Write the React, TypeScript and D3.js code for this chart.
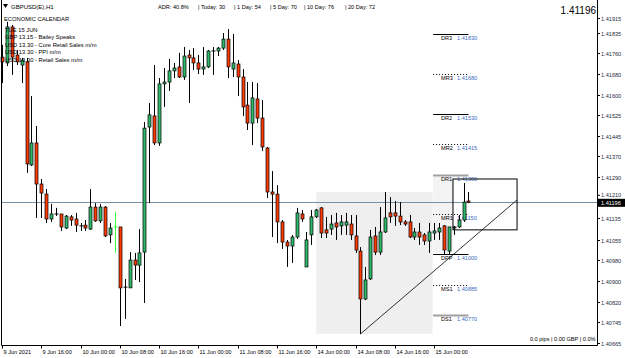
import React from 'react';
import * as d3 from 'd3';

// ---------- data ----------
const opens = [1.41744,1.41722,1.41858,1.41752,1.41714,1.41726,1.41337,1.41420,1.41265,1.41227,
1.41133,1.41152,1.41152,1.41099,1.41141,1.41133,1.41107,1.41110,1.41095,1.41178,
1.41126,1.41178,1.41073,1.41103,1.41103,1.40876,1.40873,1.40978,1.40959,1.41008,
1.41480,1.41522,1.41420,1.41643,1.41650,1.41692,1.41707,1.41669,1.41752,1.41741,
1.41722,1.41699,1.41707,1.41767,1.41767,1.41778,1.41812,1.41699,1.41718,1.41669,
1.41563,1.41495,1.41586,1.41514,1.41401,1.41235,1.41227,1.41122,1.41046,1.41031,
1.41065,1.41152,1.40952,1.41073,1.41141,1.41175,1.41092,1.41095,1.41118,1.41107,
1.41110,1.41114,1.41069,1.41012,1.40831,1.40907,1.41069,1.41008,1.41084,1.41156,
1.41156,1.41144,1.41122,1.41122,1.41065,1.41084,1.41073,1.41050,1.41080,1.41084,
1.41107,1.41012,1.41099,1.41103,1.41129,1.41201];
const highs = [1.41790,1.41877,1.41865,1.41771,1.41741,1.41741,1.41597,1.41484,1.41284,1.41246,
1.41190,1.41175,1.41152,1.41148,1.41148,1.41156,1.41118,1.41129,1.41246,1.41193,
1.41190,1.41182,1.41118,1.41159,1.41103,1.40907,1.41008,1.41005,1.41095,1.41499,
1.41571,1.41714,1.41665,1.41703,1.41737,1.41722,1.41760,1.41782,1.41771,1.41778,
1.41752,1.41782,1.41771,1.41782,1.41782,1.41835,1.41850,1.41831,1.41733,1.41699,
1.41650,1.41650,1.41646,1.41582,1.41405,1.41314,1.41261,1.41129,1.41054,1.41073,
1.41175,1.41167,1.41084,1.41167,1.41171,1.41178,1.41141,1.41148,1.41156,1.41148,
1.41156,1.41148,1.41148,1.41027,1.40952,1.41092,1.41103,1.41178,1.41235,1.41216,
1.41201,1.41197,1.41129,1.41148,1.41099,1.41118,1.41080,1.41118,1.41118,1.41118,
1.41110,1.41103,1.41107,1.41148,1.41269,1.41235];
const lows = [1.41646,1.41710,1.41677,1.41714,1.41646,1.41307,1.41333,1.41137,1.41137,1.41118,
1.41122,1.41144,1.41088,1.41095,1.41107,1.41084,1.41088,1.41088,1.41092,1.41122,
1.41118,1.41065,1.41042,1.41005,1.40729,1.40756,1.40873,1.40903,1.40895,1.40816,
1.41193,1.41412,1.41409,1.41556,1.41616,1.41665,1.41665,1.41658,1.41571,1.41695,
1.41680,1.41677,1.41703,1.41677,1.41748,1.41771,1.41665,1.41669,1.41597,1.41522,
1.41469,1.41412,1.41495,1.41390,1.41212,1.41065,1.41042,1.41020,1.40952,1.40967,
1.41058,1.41122,1.40952,1.41035,1.41137,1.41061,1.41061,1.41073,1.41054,1.41073,
1.41073,1.41054,1.41005,1.40699,1.40827,1.40903,1.40997,1.40997,1.41080,1.41118,
1.41107,1.41110,1.41107,1.41061,1.41054,1.41035,1.41035,1.41005,1.41054,1.41054,
1.41001,1.41001,1.41073,1.41099,1.41122,1.41193];
const closes = [1.41726,1.41858,1.41744,1.41726,1.41733,1.41341,1.41420,1.41265,1.41231,1.41133,
1.41152,1.41152,1.41103,1.41144,1.41129,1.41110,1.41107,1.41099,1.41178,1.41126,
1.41178,1.41069,1.41099,1.41103,1.40873,1.40876,1.40978,1.40959,1.41005,1.41476,
1.41526,1.41420,1.41643,1.41650,1.41692,1.41703,1.41669,1.41748,1.41741,1.41722,
1.41699,1.41707,1.41767,1.41767,1.41778,1.41812,1.41707,1.41722,1.41669,1.41556,
1.41495,1.41590,1.41514,1.41405,1.41235,1.41227,1.41122,1.41046,1.41031,1.41065,
1.41156,1.41133,1.41054,1.41141,1.41167,1.41080,1.41080,1.41114,1.41103,1.41122,
1.41122,1.41073,1.41016,1.40831,1.40903,1.41065,1.41008,1.41084,1.41137,1.41141,
1.41144,1.41122,1.41114,1.41065,1.41084,1.41065,1.41050,1.41084,1.41088,1.41099,
1.41016,1.41103,1.41103,1.41129,1.41197,1.41196];

const highlightBar = 23;
const currentPrice = 1.41196;

const priceTicks = [1.41915,1.41835,1.41760,1.41680,1.41600,1.41525,1.41445,1.41370,1.41290,1.41210,
1.41135,1.41055,1.40980,1.40900,1.40820,1.40745,1.40665];

const timeTickIdx = [0,8,16,24,32,40,48,56,64,72,80,88];
const timeTickLabels = ["9 Jun 2021","9 Jun 16:00","10 Jun 00:00","10 Jun 08:00","10 Jun 16:00",
"11 Jun 00:00","11 Jun 08:00","11 Jun 16:00","14 Jun 00:00","14 Jun 08:00","14 Jun 16:00","15 Jun 00:00"];

const pivotNames = ["DR3","MR3","DR2","MR2","DR1","MR1","DPP","MS1","DS1"];
const pivotValues = [1.41830,1.41680,1.41530,1.41415,1.41300,1.41150,1.41000,1.40885,1.40770];
const pivotStartIdx = 87.8;
const pivotEndIdx = 95;

const prevDayStart = 64;
const prevDayEnd = 87.7;
const sessionZoneIdx = [87.8, 91.9];
const sessionZonePrice = [1.41292, 1.41005];

const trendStartIdx = 73;
const trendEndIdx = 104.9;
const trendEndPrice = 1.41205;

const boxIdx = [91.85, 104.9];
const boxPrice = [1.41284, 1.41092];

const headerStats = ["ADR: 40.8%","| Today: 30","| 1 Day: 54","| 5 Day: 70","| 10 Day: 76","| 20 Day: 72"];
const headerStatX = [158,198,234,270,304,345];
const calendarLines = ["TUE 15 JUN","GBP 13.15 - Bailey Speaks","USD 13.30 - Core Retail Sales m/m",
"USD 13.30 - PPI m/m","USD 13.30 - Retail Sales m/m"];

// ---------- layout ----------
const W = 625, H = 358;
const plotRight = 597.5, plotBottom = 345.5, plotLeft = 1.5;
const FONT = "'Liberation Sans', Arial, sans-serif";

export default function App() {
  const x = d3.scaleLinear().domain([0, 95]).range([2, 2 + 95 * 4.91]);
  const y = d3.scaleLinear().domain([1.41835, 1.40665]).range([33, 343]);
  const bull = '#2fb86a';
  const bear = '#ff3a00';

  const prevHigh = d3.max(highs.slice(prevDayStart, Math.ceil(prevDayEnd))) as number;
  const prevLow = d3.min(lows.slice(prevDayStart, Math.ceil(prevDayEnd))) as number;

  const cy = y(currentPrice);

  return (
    <svg width={W} height={H} style={{ position: 'absolute', left: 0, top: 0, background: '#fff' }}
      fontFamily={FONT}>
      <rect x={0} y={0} width={W} height={H} fill="#fff" />
      {/* zones */}
      <rect x={x(prevDayStart)} y={y(prevHigh)} width={x(prevDayEnd) - x(prevDayStart)}
        height={y(prevLow) - y(prevHigh)} fill="#efefef" />
      <rect x={x(sessionZoneIdx[0])} y={y(sessionZonePrice[0])} width={x(sessionZoneIdx[1]) - x(sessionZoneIdx[0])}
        height={y(sessionZonePrice[1]) - y(sessionZonePrice[0])} fill="#f3f3f3" />

      {/* current price line */}
      <line x1={plotLeft} x2={plotRight} y1={Math.round(cy) + 0.5} y2={Math.round(cy) + 0.5} stroke="#7890a4" strokeWidth={1} />

      {/* pivots */}
      {pivotNames.map((n, k) => {
        const py = Math.round(y(pivotValues[k])) + 0.5;
        const dotted = n.startsWith('M');
        const grayThick = n === 'DR1' || n === 'DS1';
        return (
          <g key={n}>
            <line x1={x(pivotStartIdx)} x2={x(pivotEndIdx)} y1={py} y2={py}
              stroke={grayThick ? '#a0a0a0' : '#000'} strokeWidth={grayThick ? 2 : 1}
              strokeDasharray={dotted ? '1,2' : undefined} />
            <text x={441} y={py + 5.5} fontSize={5.6} fill="#000">{n}</text>
            <text x={457} y={py + 5.5} fontSize={5.6} fill="#3a6cc0">{pivotValues[k].toFixed(5)}</text>
          </g>
        );
      })}

      {/* candles */}
      {opens.map((o, i) => {
        const cx = Math.round(x(i)) + 0.5;
        const c = closes[i];
        const top = y(Math.max(o, c));
        const bot = y(Math.min(o, c));
        if (i === highlightBar) {
          return (
            <g key={i}>
              <line x1={cx} x2={cx} y1={y(highs[i])} y2={y(lows[i])} stroke="#3cff3c" strokeWidth={1} />
              <line x1={cx - 2} x2={cx + 2} y1={top} y2={top} stroke="#3cff3c" strokeWidth={1} />
            </g>
          );
        }
        return (
          <g key={i}>
            <line x1={cx} x2={cx} y1={y(highs[i])} y2={y(lows[i])} stroke="#000" strokeWidth={1} />
            {bot - top < 1 ? (
              <line x1={cx - 2} x2={cx + 2} y1={top} y2={top} stroke="#000" strokeWidth={1} />
            ) : (
              <rect x={cx - 1.5} y={top} width={3} height={bot - top}
                fill={c >= o ? bull : bear} stroke="#000" strokeWidth={0.7} />
            )}
          </g>
        );
      })}

      {/* trendline */}
      <line x1={x(trendStartIdx)} y1={y(lows[trendStartIdx])} x2={x(trendEndIdx)} y2={y(trendEndPrice)}
        stroke="#000" strokeWidth={0.8} />
      {/* box */}
      <rect x={x(boxIdx[0])} y={y(boxPrice[0])} width={x(boxIdx[1]) - x(boxIdx[0])}
        height={y(boxPrice[1]) - y(boxPrice[0])} fill="none" stroke="#000" strokeWidth={1} />

      {/* header */}
      <path d="M3,4 L8,4 L5.5,8 Z" fill="#000" />
      <text x={11} y={9} fontSize={6} fill="#000">GBPUSD(E),H1</text>
      {headerStats.map((s, k) => (
        <text key={s} x={headerStatX[k]} y={9} fontSize={5.6} fill="#000">{s}</text>
      ))}
      <text x={plotRight - 1.5} y={14} fontSize={10} textAnchor="end" fill="#000">{currentPrice.toFixed(5)}</text>

      <text x={4} y={20.5} fontSize={5.8} fill="#000">ECONOMIC CALENDAR</text>
      {calendarLines.map((s, k) => (
        <text key={k} x={5} y={32 + k * 7.4} fontSize={5.8} fill="#000">{s}</text>
      ))}

      <text x={plotRight - 2} y={341} fontSize={5.6} textAnchor="end" fill="#000">0.0 pips | 0.00 GBP | 0.0%</text>

      {/* frame */}
      <line x1={plotLeft} x2={plotLeft} y1={0} y2={plotBottom} stroke="#000" />
      <line x1={plotRight} x2={plotRight} y1={0} y2={plotBottom} stroke="#000" />
      <line x1={plotLeft} x2={plotRight} y1={plotBottom} y2={plotBottom} stroke="#000" />

      {/* price axis */}
      {priceTicks.map((p, k) => {
        let py = Math.max(Math.round(y(p)) + 0.5, 18.5);
        if (Math.abs(py - cy) < 5) py = cy - 7;
        return (
          <g key={k}>
            <line x1={plotRight} x2={plotRight + 2.5} y1={py} y2={py} stroke="#000" />
            <text x={plotRight + 3.5} y={py + 2} fontSize={5.6} fill="#1f2d3d">{p.toFixed(5)}</text>
          </g>
        );
      })}
      <rect x={plotRight + 0.5} y={cy - 3.5} width={W - plotRight} height={8} fill="#000" />
      <text x={plotRight + 3.5} y={cy + 2.4} fontSize={5.6} fill="#fff">{currentPrice.toFixed(5)}</text>

      {/* time axis */}
      {timeTickIdx.map((ti, k) => {
        const tx = Math.round(x(ti)) + 0.5;
        return (
          <g key={k}>
            <line x1={tx} x2={tx} y1={plotBottom} y2={plotBottom + 3} stroke="#000" />
            <text x={tx + 1} y={353.5} fontSize={5.6} fill="#000">{timeTickLabels[k]}</text>
          </g>
        );
      })}
    </svg>
  );
}
